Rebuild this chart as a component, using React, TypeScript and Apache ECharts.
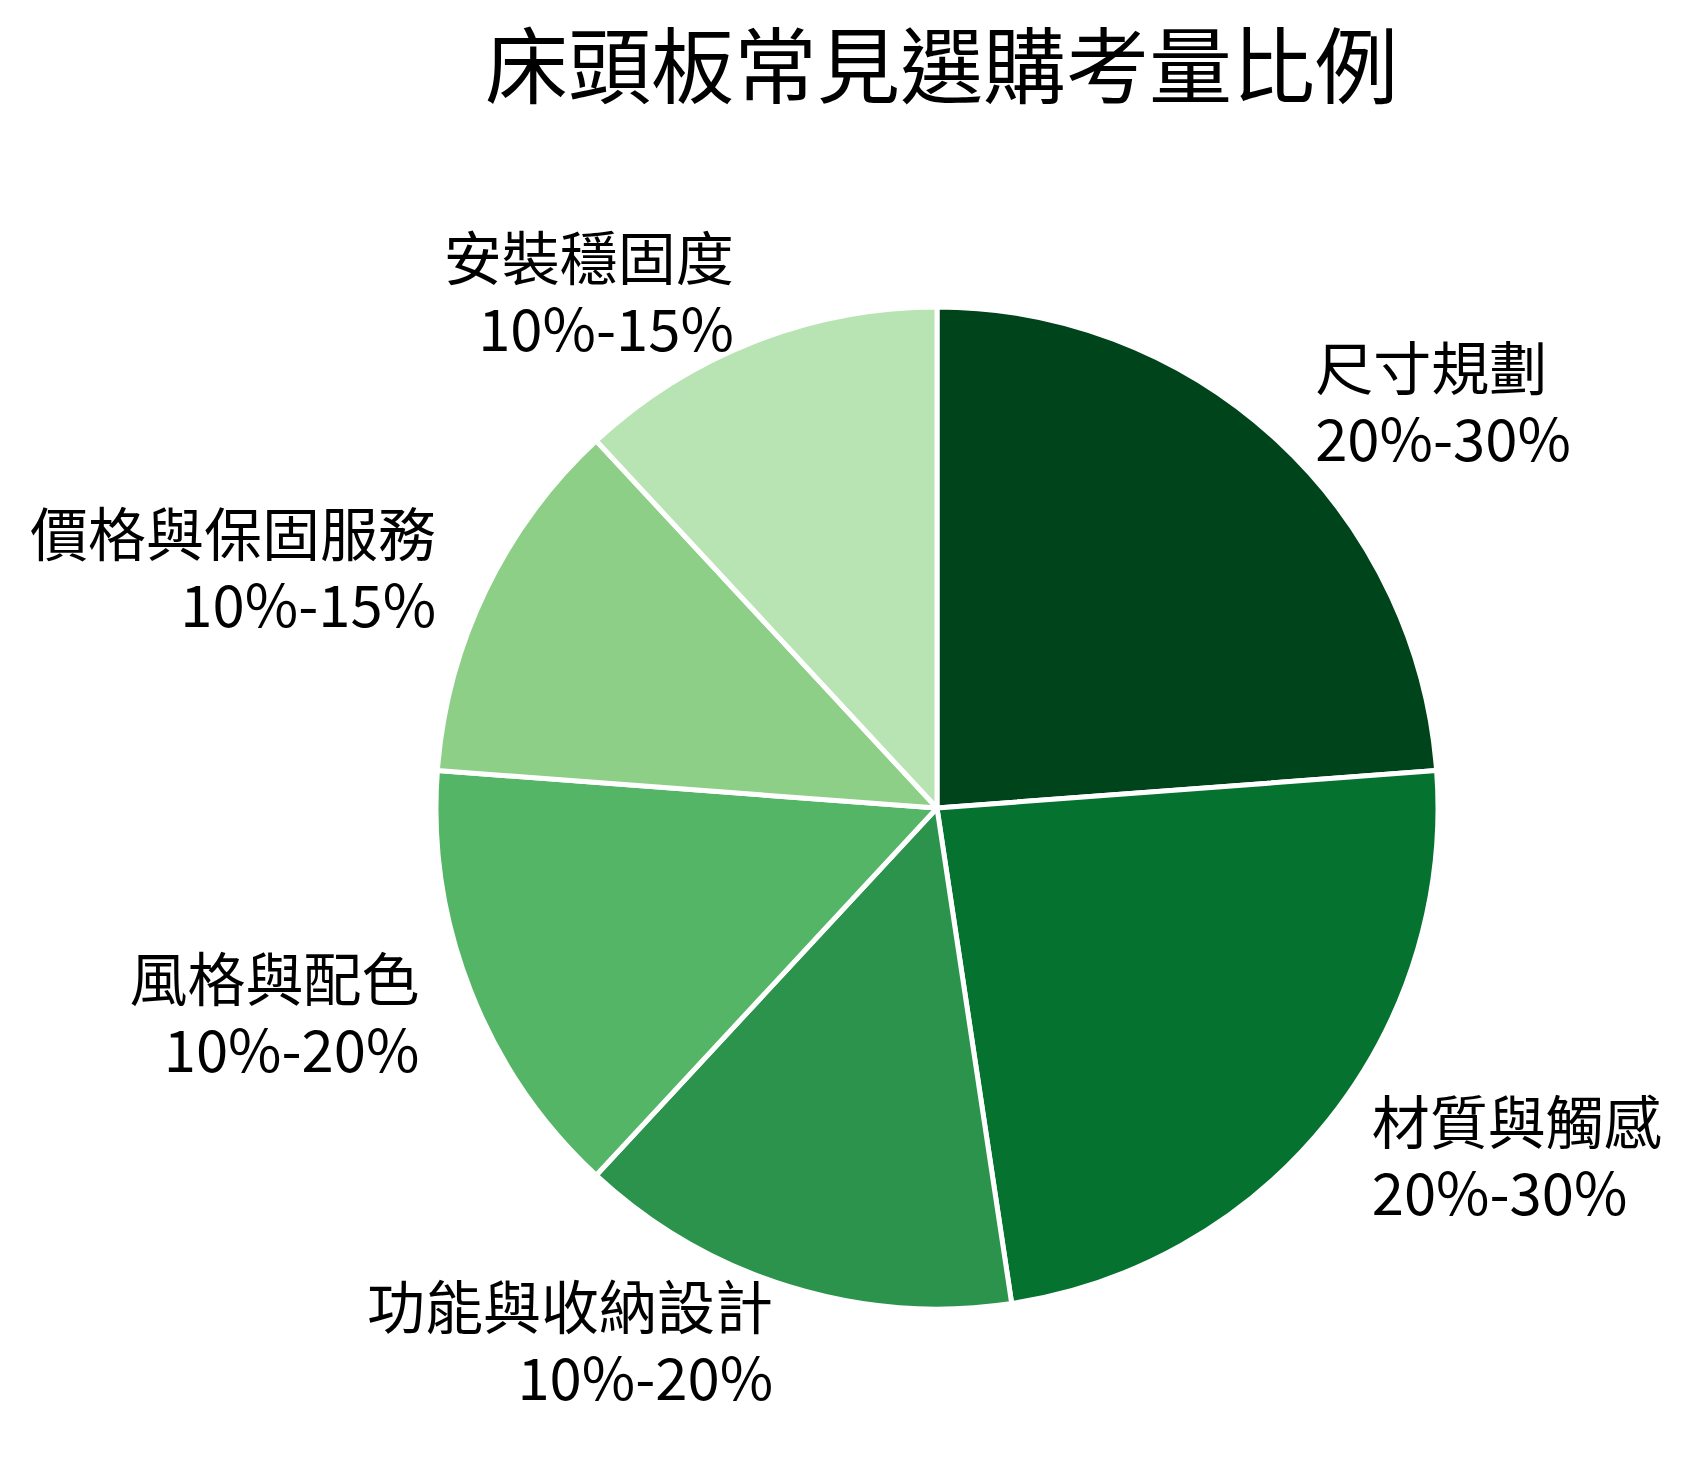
import React, { useEffect, useRef } from 'react';
import * as echarts from 'echarts';

const titleText = '床頭板常見選購考量比例';
const categories = ['尺寸規劃', '材質與觸感', '功能與收納設計', '風格與配色', '價格與保固服務', '安裝穩固度'];
const rangeLabels = ['20%-30%', '20%-30%', '10%-20%', '10%-20%', '10%-15%', '10%-15%'];
const shareValues = [25, 25, 15, 15, 12.5, 12.5];
const sliceColors = ['#00441b', '#067230', '#2b934b', '#55b567', '#8ecf88', '#b8e3b2'];

const FONT = '"Noto Sans CJK TC", "Noto Sans CJK SC", "Noto Sans", sans-serif';

const App: React.FC = () => {
	const chartRef = useRef<HTMLDivElement>(null);

	useEffect(() => {
		if (!chartRef.current) return;
		const chart = echarts.init(chartRef.current, undefined, { renderer: 'svg' });

		const option: echarts.EChartsOption = {
			animation: false,
			backgroundColor: '#ffffff',
			title: {
				text: titleText,
				left: 485,
				top: 19,
				padding: 0,
				textStyle: {
					fontFamily: FONT,
					fontSize: 83,
					lineHeight: 83,
					fontWeight: 'normal',
					color: '#000000'
				}
			},
			series: [
				{
					type: 'pie',
					center: [937, 808],
					radius: 501,
					startAngle: 90,
					clockwise: true,
					avoidLabelOverlap: false,
					data: categories.map((name, i) => ({
						name,
						value: shareValues[i],
						itemStyle: { color: sliceColors[i] }
					})),
					itemStyle: {
						borderColor: '#ffffff',
						borderWidth: 5
					},
					label: {
						show: true,
						position: 'outside',
						distanceToLabelLine: 0,
						formatter: (p: any) => `${p.name}\n${rangeLabels[p.dataIndex]}`,
						fontFamily: FONT,
						fontSize: 58,
						lineHeight: 71,
						color: '#000000'
					},
					labelLine: {
						show: false,
						length: 55,
						length2: 0
					},
					emphasis: { disabled: true }
				}
			]
		};

		chart.setOption(option);
		return () => {
			chart.dispose();
		};
	}, []);

	return (
		<div
			ref={chartRef}
			style={{ position: 'absolute', left: 0, top: 0, width: '1691px', height: '1468px', background: '#fff' }}
		/>
	);
};

export default App;
